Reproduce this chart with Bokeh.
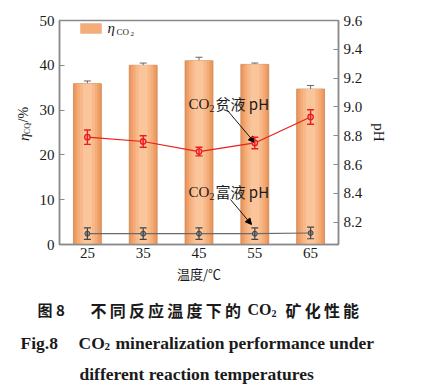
from bokeh.plotting import figure
from bokeh.layouts import column, row
from bokeh.models import (ColumnDataSource, Range1d, LinearAxis, Whisker, TeeHead,
                          Label, Arrow, NormalHead, BoxAnnotation, FixedTicker,
                          NumeralTickFormatter)
from bokeh.embed import file_html
from bokeh.resources import INLINE

temps = ["25", "35", "45", "55", "65"]
eta = [35.9, 40.0, 41.0, 40.2, 34.7]
eta_err = [0.6, 0.5, 0.8, 0.3, 0.8]
ph_lean = [8.79, 8.76, 8.69, 8.75, 8.93]
ph_lean_err = [0.05, 0.04, 0.03, 0.04, 0.05]
ph_rich = [8.12, 8.12, 8.12, 8.12, 8.125]
ph_rich_err = [0.04, 0.04, 0.04, 0.04, 0.04]
left_ticks = [0, 10, 20, 30, 40, 50]
right_ticks = [8.2, 8.4, 8.6, 8.8, 9.0, 9.2, 9.4, 9.6]

SERIF = "Liberation Serif"
CJK = "Noto Sans CJK SC"
AX = "#8a8a8a"
TXT = "#1a1a1a"

src = ColumnDataSource(dict(
    x=temps, eta=eta,
    eta_lo=[v - e for v, e in zip(eta, eta_err)],
    eta_hi=[v + e for v, e in zip(eta, eta_err)],
    lean=ph_lean,
    lean_lo=[v - e for v, e in zip(ph_lean, ph_lean_err)],
    lean_hi=[v + e for v, e in zip(ph_lean, ph_lean_err)],
    rich=ph_rich,
    rich_lo=[v - e for v, e in zip(ph_rich, ph_rich_err)],
    rich_hi=[v + e for v, e in zip(ph_rich, ph_rich_err)],
))

LW = 36      # width of the left label strip
TOPH = 290   # height of chart row
CAPH = 102   # caption height

p = figure(x_range=temps, y_range=Range1d(0, 50), width=422 - LW, height=TOPH,
           output_backend="svg", toolbar_location=None,
           min_border_left=59 - LW, min_border_right=84, min_border_top=20,
           min_border_bottom=TOPH - 244)
p.x_range.range_padding = 0
p.extra_y_ranges = {"ph": Range1d(8.045, 9.6)}
p.grid.visible = False
p.outline_line_color = AX
p.outline_line_width = 1.5

# gradient bars
layers = [(0.5, "#EC955A"), (0.44, "#F09F67"), (0.36, "#F4AC78"), (0.27, "#F7B98A"), (0.16, "#FAC59B")]
for i, (w, c) in enumerate(layers):
    p.vbar(x="x", top="eta", width=w, source=src, fill_color=c,
           line_color="#C8875A" if i == 0 else None, line_width=0.8)

p.add_layout(Whisker(source=src, base="x", lower="eta_lo", upper="eta_hi",
                     line_color="#666666", line_width=1,
                     upper_head=TeeHead(size=7, line_color="#666666", line_width=1),
                     lower_head=TeeHead(size=7, line_color="#666666", line_width=1)))

# lean pH (red)
p.line("x", "lean", source=src, y_range_name="ph", line_color="#E8201A", line_width=1.2)
p.add_layout(Whisker(source=src, base="x", lower="lean_lo", upper="lean_hi", y_range_name="ph",
                     line_color="#E8201A", line_width=1.4, level="overlay",
                     upper_head=TeeHead(size=7, line_color="#E8201A", line_width=1.4),
                     lower_head=TeeHead(size=7, line_color="#E8201A", line_width=1.4)))
p.scatter("x", "lean", source=src, y_range_name="ph", size=5.5, fill_color="#FF9A9A",
          line_color="#E8201A", line_width=1.3)

# rich pH (gray)
p.line("x", "rich", source=src, y_range_name="ph", line_color="#6a6a6a", line_width=1.2)
p.add_layout(Whisker(source=src, base="x", lower="rich_lo", upper="rich_hi", y_range_name="ph",
                     line_color="#444444", line_width=1.2, level="overlay",
                     upper_head=TeeHead(size=7, line_color="#444444", line_width=1.2),
                     lower_head=TeeHead(size=7, line_color="#444444", line_width=1.2)))
p.scatter("x", "rich", source=src, y_range_name="ph", size=5, fill_color="#8a9098",
          line_color="#444444", line_width=1)

# axes
def style_axis(ax):
    ax.axis_line_color = AX
    ax.axis_line_width = 1.5
    ax.major_tick_line_color = AX
    ax.major_tick_line_width = 1.2
    ax.minor_tick_line_color = None
    ax.major_label_text_font = SERIF
    ax.major_label_text_font_size = "15px"
    ax.major_label_text_color = TXT

yl = p.yaxis[0]
style_axis(yl)
yl.ticker = FixedTicker(ticks=left_ticks)
yl.major_tick_in = 5
yl.major_tick_out = 0
yl.major_label_standoff = 5

xa = p.xaxis[0]
style_axis(xa)
xa.major_tick_in = 0
xa.major_tick_out = 0
xa.major_label_standoff = 3
xa.axis_label = "温度/℃"
xa.axis_label_text_font = CJK
xa.axis_label_text_font_style = "normal"
xa.axis_label_text_font_size = "13px"
xa.axis_label_standoff = 3
xa.axis_label_text_color = TXT

yr = LinearAxis(y_range_name="ph", ticker=FixedTicker(ticks=right_ticks),
                formatter=NumeralTickFormatter(format="0.0"))
style_axis(yr)
yr.major_tick_in = 5
yr.major_tick_out = 0
yr.major_label_standoff = 5
yr.axis_label = "pH"
yr.axis_label_text_font = SERIF
yr.axis_label_text_font_style = "normal"
yr.axis_label_text_font_size = "15px"
yr.axis_label_standoff = 6
yr.axis_label_text_color = TXT
p.add_layout(yr, "right")

def lab(fig, text, x, y, size, font=SERIF, style="normal", angle=0, units="screen"):
    fig.add_layout(Label(x=x, y=y, x_units=units, y_units=units, text=text,
                         text_font=font, text_font_size=f"{size}px", text_font_style=style,
                         angle=angle, text_align="left", text_baseline="middle", text_color=TXT))

# legend
p.add_layout(BoxAnnotation(left=21, right=42, top=221, bottom=211,
                           left_units="screen", right_units="screen",
                           top_units="screen", bottom_units="screen",
                           fill_color="#F4AC78", fill_alpha=1, line_color="#C8875A", line_width=0.8))
lab(p, "η", 48, 217, 15, style="italic")
lab(p, "CO", 57, 213, 9)
lab(p, "2", 71, 211, 7)

# annotations
def co2_label(x, y, rest):
    lab(p, "CO", x, y, 15)
    lab(p, "2", x + 21, y - 5, 10)
    lab(p, rest, x + 27, y, 15, font=CJK)

co2_label(129, 141, "贫液 pH")
co2_label(129, 53, "富液 pH")
p.add_layout(Arrow(x_start=168, y_start=134, x_end=195, y_end=102,
                   start_units="screen", end_units="screen",
                   line_color="black", line_width=0.9,
                   end=NormalHead(size=6, fill_color="black", line_color="black")))
p.add_layout(Arrow(x_start=171, y_start=45, x_end=192, y_end=20,
                   start_units="screen", end_units="screen",
                   line_color="black", line_width=0.9,
                   end=NormalHead(size=6, fill_color="black", line_color="black")))

def blank(w, h):
    f = figure(width=w, height=h, x_range=Range1d(0, w), y_range=Range1d(0, h),
               output_backend="svg", toolbar_location=None,
               x_axis_location=None, y_axis_location=None,
               min_border=0, outline_line_color=None)
    f.grid.visible = False
    return f

# left axis label strip: eta_CO2/%
lf = blank(LW, TOPH)
lab(lf, "η", 23, 134, 15, style="italic", angle=1.5708, units="data")
lab(lf, "CO", 27, 143, 8, angle=1.5708, units="data")
lab(lf, "2", 28, 154, 6, angle=1.5708, units="data")
lab(lf, "/%", 23, 158, 14, angle=1.5708, units="data")

# caption
T = "\u2009"
cf = blank(422, CAPH)
y1, y2, y3 = CAPH - 19, CAPH - 52, CAPH - 83
lab(cf, "图 8", 37, y1, 15, font=CJK, style="bold", units="data")
lab(cf, T.join("不同反应温度下的"), 90, y1, 16, font=CJK, style="bold", units="data")
lab(cf, "CO", 247, y1, 16, style="bold", units="data")
lab(cf, "2", 271, y1 - 4, 10, style="bold", units="data")
lab(cf, T.join("矿化性能"), 285, y1, 16, font=CJK, style="bold", units="data")
lab(cf, "Fig.8", 20, y2, 17.5, style="bold", units="data")
lab(cf, "CO", 78, y2, 17.5, style="bold", units="data")
lab(cf, "2", 104, y2 - 4, 11, style="bold", units="data")
lab(cf, "mineralization performance under", 115, y2, 17.5, style="bold", units="data")
lab(cf, "different reaction temperatures", 79, y3, 17.5, style="bold", units="data")

layout = column(row(lf, p, spacing=0), cf, spacing=0)
open("out.html", "w").write(file_html(layout, INLINE))
